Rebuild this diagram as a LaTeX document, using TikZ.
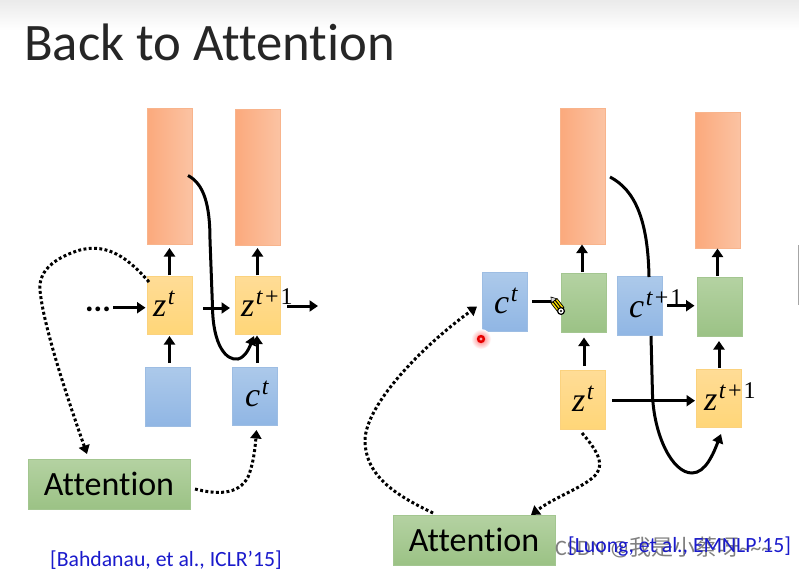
\documentclass[tikz,border=0pt]{standalone}
\usepackage{fontspec}
\setmainfont[Ligatures=NoCommon]{Carlito}
\newfontfamily\cjk{Noto Sans CJK SC}
\newfontfamily\mathf{Liberation Serif}
\usetikzlibrary{arrows.meta,calc}
\definecolor{orA}{HTML}{FBA97C}
\definecolor{orB}{HTML}{FBC3A3}
\definecolor{orL}{HTML}{F8B48C}
\definecolor{yeA}{HTML}{FFDC96}
\definecolor{yeB}{HTML}{FFD678}
\definecolor{yeL}{HTML}{FBD27E}
\definecolor{blA}{HTML}{ACC9EA}
\definecolor{blB}{HTML}{90B6E4}
\definecolor{blL}{HTML}{9DBDE3}
\definecolor{grA}{HTML}{B4D2A2}
\definecolor{grB}{HTML}{9BC285}
\definecolor{grL}{HTML}{A3C690}
\definecolor{refblue}{HTML}{1A1ACC}
\tikzset{
  x=1pt,y=-1pt,
  base/.style={inner sep=0pt,outer sep=0pt,text=black,line width=0.6pt},
  orbox/.style={base,draw=orL,left color=orA,right color=orB,minimum width=45pt,minimum height=136pt},
  yebox/.style={base,draw=yeL,top color=yeA,bottom color=yeB,minimum width=45pt,minimum height=58.5pt},
  blbox/.style={base,draw=blL,top color=blA,bottom color=blB,minimum width=45pt,minimum height=58.5pt},
  grbox/.style={base,draw=grL,top color=grA,bottom color=grB,minimum width=45pt,minimum height=58.5pt},
  attbox/.style={base,draw=grL,top color=grA,bottom color=grB,minimum width=162pt,minimum height=50pt,font=\fontsize{34}{34}\selectfont},
  arr/.style={line width=3pt,-{Triangle[length=8.5pt,width=11pt]}},
  cur/.style={line width=3pt,-{Triangle[length=9pt,width=11pt]}},
  plain/.style={line width=3pt},
  dot/.style={line width=3pt,dash pattern=on 2.9pt off 2.4pt,-{Triangle[length=8.5pt,width=11pt]}},
  cite/.style={inner sep=0pt,text=refblue,font=\fontsize{21.7}{21.7}\selectfont},
  lbl/.style={inner sep=0pt,text=black},
}
\newcommand{\mvar}[2]{{\mathf\fontsize{34}{34}\selectfont\textit{#1}\kern1.5pt\raisebox{12pt}{\fontsize{24}{24}\selectfont #2}}}
\newcommand{\ssT}{\textit{t}}
\newcommand{\ssP}{\textit{t}\kern2pt+\kern2pt1}
\begin{document}
\begin{tikzpicture}
\useasboundingbox (0,0) rectangle (799,568);
\fill[white] (0,0) rectangle (799,568);
\shade[top color=black!8,bottom color=white] (0,0) rectangle (799,30);
\fill[black!35] (798,245) rectangle (799,305);
\node[inner sep=0pt,anchor=base west,font=\fontsize{52.7}{52.7}\selectfont,text=black!85] (title) at (24,60) {Back to Attention};
% left
\node[orbox] (o1) at (169.5,176) {};
\node[orbox] (o2) at (257.5,177) {};
\node[yebox] (z1) at (169.5,305.5) {};
\node[yebox] (z2) at (257.5,305.5) {};
\node[blbox] (b1) at (167.5,397) {};
\node[blbox] (b2) at (255,396.5) {};
\node[attbox] (att1) at (109,484) {Attention};
\node[lbl,anchor=base west] (zl1) at (153,316) {\mvar{z}{\ssT}};
\node[lbl,anchor=base west] (zl2) at (241,316) {\mvar{z}{\ssP}};
\node[lbl,anchor=base west] (cl2) at (245,406) {\mvar{c}{\ssT}};
\node[inner sep=0pt,anchor=base,font=\fontsize{32}{32}\selectfont] (dots) at (98,311) {\textbf{...}};
\coordinate (d0) at (113,307.7);
\coordinate (d1) at (145.5,307.7);
\draw[arr] (d0) -- (d1);
\draw[arr] (169.5,363) -- (169.5,336);
\draw[arr] ($(z1.north)+(0,-1)$) -- ($(o1.south)+(0,4)$);
\draw[arr] ($(z2.north)+(0,-1)$) -- ($(o2.south)+(0,3)$);
\coordinate (zz1) at (203,308);
\coordinate (zz1e) at (230,308);
\draw[arr] (zz1) -- (zz1e);
\coordinate (zz2) at (287,306);
\coordinate (zz3) at (318,306);
\draw[arr] (zz2) -- (zz3);
\coordinate (bb2) at (257,363);
\coordinate (bb3) at (257,335.5);
\draw[arr] (bb2) -- (bb3);
\coordinate (c1) at (188,175.5);
\coordinate (c2) at (254,336);
\draw[cur] (c1) .. controls (204,184) and (210,205) .. (210,240) -- (212.5,307) .. controls (213,345) and (226,361) .. (238,359) .. controls (246,357) and (250,346) .. (c2);
\coordinate (a1) at (149,282);
\coordinate (a2) at (87,454);
\draw[dot] (a1) .. controls (128,258) and (108,243) .. (80,250) .. controls (60,256) and (38,268) .. (40,290) .. controls (43,325) and (68,400) .. (a2);
\coordinate (a3) at (195,489);
\coordinate (a4) at (256.5,430);
\draw[dot] (a3) .. controls (215,494) and (238,496) .. (248,477) .. controls (253,465) and (255,450) .. (a4);
\node[cite,anchor=base west] (r1) at (50,566.5) {[Bahdanau, et al., ICLR’15]};
% right
\node[orbox] (o3) at (582.5,176) {};
\node[orbox] (o4) at (718,180) {};
\node[grbox] (g1) at (583.5,303) {};
\node[grbox] (g2) at (719.5,307) {};
\node[blbox] (cb1) at (504.5,302) {};
\node[blbox] (cb2) at (640,306) {};
\node[yebox] (z3) at (582.5,400) {};
\node[yebox] (z4) at (719,398.5) {};
\node[attbox] (att2) at (474,540) {Attention};
\node[lbl,anchor=base west] (cl3) at (494,313) {\mvar{c}{\ssT}};
\node[lbl,anchor=base west] (cl4) at (629,317) {\mvar{c}{\ssP}};
\node[lbl,anchor=base west] (zl3) at (572,411) {\mvar{z}{\ssT}};
\node[lbl,anchor=base west] (zl4) at (704,410) {\mvar{z}{\ssP}};
\draw[arr] (582,272) -- (582,244.5);
\draw[arr] (717.5,276) -- (717.5,248.5);
\coordinate (g1b) at (584,366);
\coordinate (g1c) at (584,337.5);
\draw[arr] (g1b) -- (g1c);
\coordinate (g2b) at (719,368);
\coordinate (g2c) at (719,341);
\draw[arr] (g2b) -- (g2c);
\coordinate (k1) at (532,301);
\coordinate (k1e) at (553,301);
\draw[plain] (k1) -- (k1e);
\coordinate (k2) at (667,305.7);
\coordinate (k2e) at (694.5,305.7);
\draw[arr] (k2) -- (k2e);
\coordinate (k3) at (612,400.7);
\coordinate (k3e) at (695,400.7);
\draw[arr] (k3) -- (k3e);
\coordinate (m1) at (610,177);
\coordinate (m2) at (721,434);
\draw[plain] (m1) .. controls (635,190) and (648,220) .. (649,277);
\draw[cur] (651,336) -- (652.5,395) .. controls (654,435) and (672,473) .. (692,473) .. controls (706,473) and (714,452) .. (m2);
\coordinate (n1) at (433,513);
\coordinate (n2) at (477,306.5);
\draw[dot] (n1) .. controls (400,497) and (365,478) .. (365,440) .. controls (366,405) and (420,348) .. (n2);
\coordinate (n3) at (582,433);
\coordinate (n4) at (531,515);
\draw[dot] (n3) .. controls (594,447) and (605,462) .. (597,473) .. controls (588,486) and (556,496) .. (n4);
% watermark and citation
\node[inner sep=0pt,anchor=base west,text=black!50,font=\fontsize{22}{22}\selectfont] (wm) at (555,555) {CSDN @{\cjk 我是小蔡呀}\textasciitilde\textasciitilde\textasciitilde};
\node[cite,anchor=base west] (r2) at (568,552.5) {[Luong, et al., EMNLP’15]};
% pencil cursor and red pointer
\begin{scope}[shift={(551,297)},rotate=-52]
\fill[black!15,draw=black,line width=0.6pt] (0,0) -- (5,-3.5) -- (5,3.5) -- cycle;
\fill[yellow!85!orange,draw=black,line width=0.7pt] (5,-3.8) rectangle (16,3.8);
\draw[black,line width=1pt] (5,-1.3) -- (16,-1.3) (5,1.3) -- (16,1.3);
\end{scope}
\fill[white,draw=black,line width=1.2pt] (561,311) circle (3.4);
\fill[black] (561,311) circle (1.2);
\shade[inner color=red!55,outer color=white] (481,339) circle (10);
\fill[red!90!black] (481,339) circle (4.2);
\fill[white!65!red] (481,339) circle (1.6);
\end{tikzpicture}
\end{document}
